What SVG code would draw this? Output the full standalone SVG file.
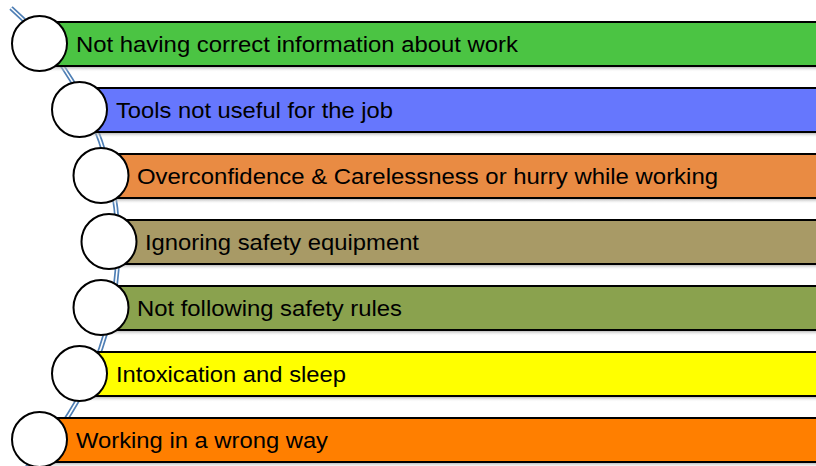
<svg xmlns="http://www.w3.org/2000/svg" width="816" height="466" viewBox="0 0 816 466">
<defs>
<linearGradient id="sh" x1="0" y1="0" x2="0" y2="1">
<stop offset="0" stop-color="#888" stop-opacity="0.8"/>
<stop offset="1" stop-color="#fff" stop-opacity="0"/>
</linearGradient>
<style>
.bar{stroke:#000;stroke-width:2}
.shadow{fill:url(#sh)}
.c{fill:#fff;stroke:#000;stroke-width:2}
.t{font-family:"Liberation Sans",Arial,sans-serif;font-size:22px;fill:#000}
.arcO{fill:none;stroke:#4f7fb5;stroke-width:5}
.arcI{fill:none;stroke:#fff;stroke-width:1.6}
</style>
</defs>
<g id="connectors">
<path class="arcO" d="M 11 8 A 316.8 316.8 0 0 1 14 480"/>
<path class="arcI" d="M 11 8 A 316.8 316.8 0 0 1 14 480"/>
</g>
<g id="node1">
<rect class="shadow" x="40" y="66" width="790" height="6"/>
<rect class="bar" x="40" y="22" width="790" height="44" fill="#4bc443"/>
<circle class="c" cx="39.5" cy="43.5" r="27.5"/>
<text class="t" x="76" y="51.5" textLength="442" lengthAdjust="spacingAndGlyphs">Not having correct information about work</text>
</g>
<g id="node2">
<rect class="shadow" x="80" y="132" width="750" height="6"/>
<rect class="bar" x="80" y="88" width="750" height="44" fill="#6677fd"/>
<circle class="c" cx="79.5" cy="109.5" r="27.5"/>
<text class="t" x="116" y="117.5" textLength="277" lengthAdjust="spacingAndGlyphs">Tools not useful for the job</text>
</g>
<g id="node3">
<rect class="shadow" x="101" y="198" width="730" height="6"/>
<rect class="bar" x="101" y="154" width="730" height="44" fill="#e98b43"/>
<circle class="c" cx="101" cy="175.5" r="27.5"/>
<text class="t" x="137" y="183.5" textLength="581" lengthAdjust="spacingAndGlyphs">Overconfidence &amp; Carelessness or hurry while working</text>
</g>
<g id="node4">
<rect class="shadow" x="109" y="264" width="720" height="6"/>
<rect class="bar" x="109" y="220" width="720" height="44" fill="#a89a66"/>
<circle class="c" cx="109" cy="241.5" r="27.5"/>
<text class="t" x="145" y="249.5" textLength="274" lengthAdjust="spacingAndGlyphs">Ignoring safety equipment</text>
</g>
<g id="node5">
<rect class="shadow" x="101" y="330" width="730" height="6"/>
<rect class="bar" x="101" y="286" width="730" height="44" fill="#8aa24e"/>
<circle class="c" cx="101" cy="307.5" r="27.5"/>
<text class="t" x="137" y="315.5" textLength="265" lengthAdjust="spacingAndGlyphs">Not following safety rules</text>
</g>
<g id="node6">
<rect class="shadow" x="80" y="396" width="750" height="6"/>
<rect class="bar" x="80" y="352" width="750" height="44" fill="#ffff00"/>
<circle class="c" cx="79.5" cy="373.5" r="27.5"/>
<text class="t" x="116" y="381.5" textLength="230" lengthAdjust="spacingAndGlyphs">Intoxication and sleep</text>
</g>
<g id="node7">
<rect class="shadow" x="40" y="462" width="790" height="6"/>
<rect class="bar" x="40" y="418" width="790" height="44" fill="#ff7f00"/>
<circle class="c" cx="39.5" cy="439.5" r="27.5"/>
<text class="t" x="76" y="447.5" textLength="252" lengthAdjust="spacingAndGlyphs">Working in a wrong way</text>
</g>
</svg>
